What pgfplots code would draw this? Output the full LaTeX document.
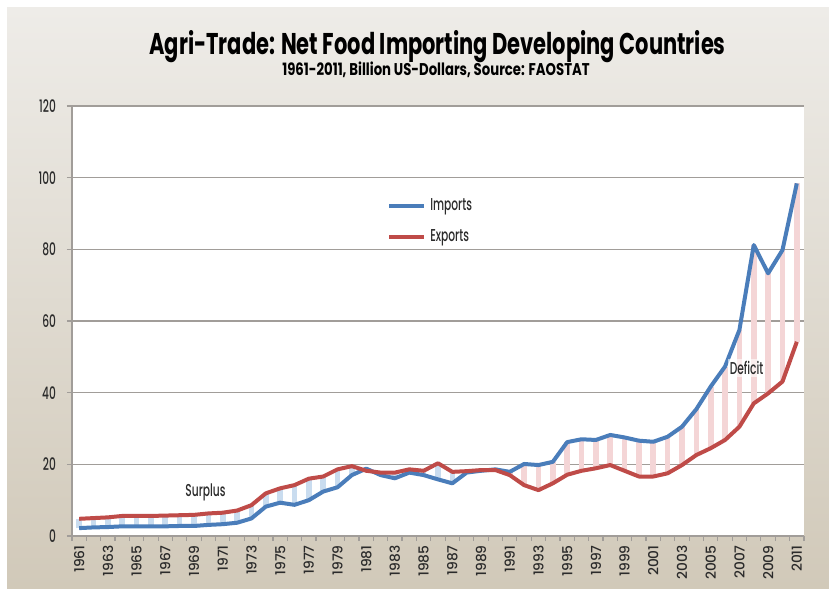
\documentclass[border=0pt]{standalone}
\usepackage{fontspec}
\setmainfont{Poppins}
\newfontfamily\titlefont{Poppins}[FakeStretch=0.7]
\newfontfamily\subfont{Poppins}[FakeStretch=0.78]
\newfontfamily\hfont{Poppins}[FakeStretch=0.62,BoldFont={Poppins Medium}]
\newfontfamily\vfont{Poppins}[BoldFont={Poppins Medium}]
\usepackage{pgfplots}
\pgfplotsset{compat=1.18}
\usepackage{pgfplotstable}
\definecolor{impblue}{HTML}{4A7DBA}
\definecolor{expred}{HTML}{BF4B48}
\definecolor{pinkstripe}{HTML}{F4D5D6}
\definecolor{bluestripe}{HTML}{C9DCEF}
\definecolor{bgtop}{HTML}{EEECE8}
\definecolor{bgbot}{HTML}{D1C9B9}
\definecolor{gridgray}{HTML}{A19D99}
\definecolor{txt}{HTML}{2B2B2B}
\pgfplotstableread{
year imp exp
1961 2.2 4.8
1962 2.4 5.0
1963 2.5 5.2
1964 2.7 5.6
1965 2.7 5.6
1966 2.7 5.6
1967 2.7 5.7
1968 2.8 5.8
1969 2.8 5.9
1970 3.1 6.3
1971 3.3 6.5
1972 3.7 7.1
1973 4.9 8.6
1974 8.2 11.9
1975 9.3 13.3
1976 8.7 14.2
1977 10.0 16.0
1978 12.4 16.6
1979 13.6 18.6
1980 17.0 19.5
1981 18.8 18.2
1982 17.0 17.7
1983 16.1 17.7
1984 17.7 18.6
1985 17.0 18.2
1986 15.8 20.3
1987 14.7 17.9
1988 17.7 18.1
1989 18.2 18.4
1990 18.6 18.4
1991 17.9 17.0
1992 20.1 14.2
1993 19.8 12.8
1994 20.7 14.7
1995 26.2 17.1
1996 27.0 18.2
1997 26.8 18.9
1998 28.2 19.8
1999 27.5 18.2
2000 26.6 16.6
2001 26.3 16.6
2002 27.7 17.5
2003 30.5 19.8
2004 35.4 22.6
2005 41.7 24.5
2006 47.3 26.8
2007 57.5 30.5
2008 81.2 37.0
2009 73.3 39.8
2010 79.8 43.1
2011 98.4 54.2
}\tradedata
\begin{document}
\begin{tikzpicture}
\useasboundingbox (0pt,0pt) rectangle (414.5pt,295pt);
\fill[white] (0pt,0pt) rectangle (414.5pt,295pt);
\shade[top color=bgtop, bottom color=bgbot] (3.5pt,1pt) rectangle (414.5pt,291pt);
\node[font=\titlefont\bfseries\fontsize{15}{16}\selectfont, text=black] at (218.75pt,271.5pt) {Agri-Trade: Net Food Importing Developing Countries};
\node[font=\subfont\bfseries\fontsize{8.5}{9}\selectfont, text=black] at (218pt,260pt) {1961-2011, Billion US-Dollars, Source: FAOSTAT};
\begin{axis}[
  at={(36pt,27pt)}, anchor=south west,
  scale only axis, width=366pt, height=215pt,
  xmin=1960.5, xmax=2011.5, ymin=0, ymax=120,
  axis x line*=bottom, axis y line*=left,
  axis line style={gridgray, line width=0.8pt},
  axis background/.style={fill=white},
  ytick={0,20,...,120},
  ymajorgrids, grid style={gridgray, line width=0.8pt},
  tick align=outside,
  major tick length=2.5pt,
  tick style={gridgray, line width=0.6pt},
  xtick={1960.5,1961.5,...,2011.5},
  xticklabels={},
  extra x ticks={1961,1963,...,2011},
  extra x tick labels={1961,1963,1965,1967,1969,1971,1973,1975,1977,1979,1981,1983,1985,1987,1989,1991,1993,1995,1997,1999,2001,2003,2005,2007,2009,2011},
  extra x tick style={major tick length=0pt, xticklabel style={rotate=90, anchor=east, font=\vfont\bfseries\fontsize{6.9}{7}\selectfont, text=txt, inner sep=0pt, xshift=-4.5pt}},
  yticklabel style={font=\hfont\bfseries\fontsize{8.6}{9}\selectfont, text=txt, xshift=-2pt},
  /pgf/number format/assume math mode=true,
  legend style={at={(axis cs:1982.3,96)}, anchor=north west, draw=none, fill=none,
    font=\hfont\bfseries\fontsize{8.6}{9}\selectfont, text=txt, row sep=4pt, inner sep=1pt},
  legend cell align=left,
  legend image code/.code={\draw[#1] (0pt,0pt) -- (17.5pt,0pt);},
  clip=false,
]
\addplot[draw=none, mark=none, forget plot, restrict x to domain=1961:1990,
  error bars/.cd, y dir=plus, y explicit, error mark=none,
  error bar style={line width=2.8pt, bluestripe}]
  table[x=year, y=imp, y error expr={\thisrow{exp}-\thisrow{imp}}] {\tradedata};
\addplot[draw=none, mark=none, forget plot, restrict x to domain=1991:2011,
  error bars/.cd, y dir=plus, y explicit, error mark=none,
  error bar style={line width=2.8pt, pinkstripe}]
  table[x=year, y=exp, y error expr={\thisrow{imp}-\thisrow{exp}}] {\tradedata};
\addplot[impblue, line width=2pt, mark=none, line join=round] table[x=year, y=imp] {\tradedata};
\addlegendentry{Imports}
\addplot[expred, line width=2pt, mark=none, line join=round] table[x=year, y=exp] {\tradedata};
\addlegendentry{Exports}
\node[font=\hfont\bfseries\fontsize{8.6}{9}\selectfont, text=txt] at (axis cs:1969.8,12.3) {Surplus};
\node[font=\hfont\bfseries\fontsize{8.6}{9}\selectfont, text=txt, fill=white, fill opacity=0.6, text opacity=1, inner sep=1pt] at (axis cs:2007.5,46.9) {Deficit};
\end{axis}
\end{tikzpicture}
\end{document}
